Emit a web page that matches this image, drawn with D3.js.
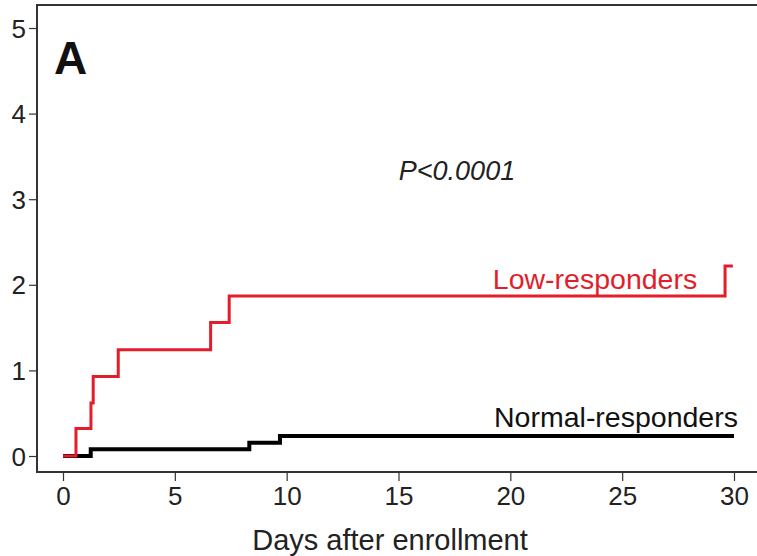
<!DOCTYPE html>
<html>
<head>
<meta charset="utf-8">
<script src="https://cdn.jsdelivr.net/npm/d3@7"></script>
<style>
  body { margin: 0; background: #fff; }
  svg { display: block; font-family: "Liberation Sans", Arial, sans-serif; }
</style>
</head>
<body>
<script>
// Cumulative incidence (%) step data
var lowDays   = [0, 0.58, 1.25, 1.35, 2.47, 6.6, 7.43, 29.6, 29.95];
var lowValues = [0, 0.32, 0.62, 0.93, 1.24, 1.56, 1.87, 2.22, 2.22];
var normalDays   = [0, 1.24, 8.33, 9.7, 30];
var normalValues = [0, 0.08, 0.155, 0.235, 0.235];

var xTicks = [0, 5, 10, 15, 20, 25, 30];
var yTicks = [0, 1, 2, 3, 4, 5];

var width = 757, height = 556;
var frameLeft = 37, frameTop = 5, frameBottom = 472;

var svg = d3.select("body")
	.append("svg")
		.attr("width", width)
		.attr("height", height);

var x = d3.scaleLinear().domain([0, 30]).range([63, 734]);
var y = d3.scaleLinear().domain([0, 5]).range([456, 28]);

// frame (right side runs off the picture)
svg.append("path")
	.attr("d", "M" + (width + 5) + "," + frameTop + "H" + frameLeft + "V" + frameBottom + "H" + (width + 5))
	.attr("fill", "none")
	.attr("stroke", "#333")
	.attr("stroke-width", 2);

var xAxis = svg.append("g")
	.attr("transform", "translate(0," + frameBottom + ")")
	.call(d3.axisBottom(x).tickValues(xTicks).tickFormat(d3.format("d")).tickSize(9).tickPadding(5));

var yAxis = svg.append("g")
	.attr("transform", "translate(" + frameLeft + ",0)")
	.call(d3.axisLeft(y).tickValues(yTicks).tickFormat(d3.format("d")).tickSize(8).tickPadding(3));

[xAxis, yAxis].forEach(function(g) {
	g.select(".domain").remove();
	g.selectAll(".tick line").attr("stroke", "#333").attr("stroke-width", 1.2);
	g.selectAll(".tick text")
		.attr("fill", "#222")
		.style("font-size", "26px")
		.style("font-family", "'Liberation Sans', Arial, sans-serif");
});

xAxis.selectAll(".tick text").attr("dy", "0.72em");
yAxis.selectAll(".tick text").attr("dy", "0.35em");

svg.append("text")
	.attr("x", 390)
	.attr("y", 550)
	.attr("text-anchor", "middle")
	.attr("fill", "#222")
	.style("font-size", "29px")
	.text("Days after enrollment");

var line = d3.line()
	.x(function(d) { return x(d[0]); })
	.y(function(d) { return y(d[1]); })
	.curve(d3.curveStepAfter);

svg.append("path")
	.datum(d3.zip(normalDays, normalValues))
	.attr("d", line)
	.attr("fill", "none")
	.attr("stroke", "#000")
	.attr("stroke-width", 4);

svg.append("path")
	.datum(d3.zip(lowDays, lowValues))
	.attr("d", line)
	.attr("fill", "none")
	.attr("stroke", "#e31e2a")
	.attr("stroke-width", 3);

svg.append("text")
	.attr("x", 595)
	.attr("y", 289)
	.attr("text-anchor", "middle")
	.attr("fill", "#e31e2a")
	.style("font-size", "28.5px")
	.text("Low-responders");

svg.append("text")
	.attr("x", 616)
	.attr("y", 427)
	.attr("text-anchor", "middle")
	.attr("fill", "#111")
	.style("font-size", "28.5px")
	.text("Normal-responders");

svg.append("text")
	.attr("x", 457)
	.attr("y", 180)
	.attr("text-anchor", "middle")
	.attr("fill", "#222")
	.style("font-size", "27px")
	.style("font-style", "italic")
	.text("P<0.0001");

svg.append("text")
	.attr("x", 54)
	.attr("y", 74)
	.attr("fill", "#111")
	.style("font-size", "46px")
	.style("font-weight", "bold")
	.text("A");
</script>
</body>
</html>
